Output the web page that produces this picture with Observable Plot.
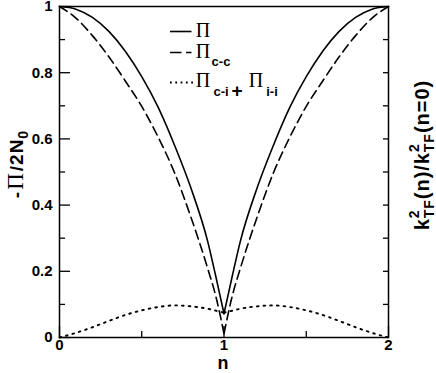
<!DOCTYPE html>
<html><head><meta charset="utf-8">
<script src="https://cdn.jsdelivr.net/npm/d3@7"></script>
<script src="https://cdn.jsdelivr.net/npm/@observablehq/plot@0.6"></script>
<style>body{margin:0;background:#fff} #chart svg{display:block}</style>
</head><body><div id="chart"></div>
<script>
// n values for the two branches (left of n=1 and right of n=1)
const nLeft  = [0, 0.1, 0.2, 0.3, 0.4, 0.5, 0.6, 0.7, 0.8, 0.9, 0.95, 1];
const nRight = [1, 1.05, 1.1, 1.2, 1.3, 1.4, 1.5, 1.6, 1.7, 1.8, 1.9, 2];

// Π (solid)
const piTotalLeft  = [1.000, 0.992, 0.967, 0.925, 0.865, 0.788, 0.695, 0.580, 0.450, 0.292, 0.185, 0.072];
const piTotalRight = [0.072, 0.185, 0.292, 0.450, 0.580, 0.695, 0.788, 0.865, 0.925, 0.967, 0.992, 1.000];
// Π c-c (dashed)
const piCCLeft  = [1.000, 0.965, 0.912, 0.848, 0.775, 0.698, 0.605, 0.497, 0.362, 0.210, 0.125, 0.012];
const piCCRight = [0.012, 0.125, 0.210, 0.362, 0.497, 0.605, 0.698, 0.775, 0.848, 0.912, 0.965, 1.000];
// Π c-i + Π i-i (dotted)
const piCILeft  = [0.000, 0.014, 0.031, 0.050, 0.068, 0.082, 0.092, 0.097, 0.094, 0.087, 0.081, 0.075];
const piCIRight = [0.075, 0.081, 0.087, 0.094, 0.097, 0.092, 0.082, 0.068, 0.050, 0.031, 0.014, 0.000];

const xTicks = [0, 1, 2];
const xMinorTicks = [0.5, 1.5];
const yTicks = [0, 0.2, 0.4, 0.6, 0.8, 1];
const yMinorTicks = [0.1, 0.3, 0.5, 0.7, 0.9];
const yRightTicks = [0.1, 0.2, 0.3, 0.4, 0.5, 0.6, 0.7, 0.8, 0.9];

function rowsFor(left, right) {
  const r = [];
  nLeft.forEach((n, i) => r.push({branch: "L", n, v: left[i]}));
  nRight.forEach((n, i) => r.push({branch: "R", n, v: right[i]}));
  return r;
}
const totalRows = rowsFor(piTotalLeft, piTotalRight);
const ccRows = rowsFor(piCCLeft, piCCRight);
const ciRows = rowsFor(piCILeft, piCIRight);

const W = 436, H = 373, ML = 59, MR = 48, MT = 6, MB = 36;
const FW = W - ML - MR, FH = H - MT - MB;

const sans = "'Liberation Sans', Arial, Helvetica, sans-serif";
const serif = "'Liberation Serif', 'Times New Roman', serif";
const fmt = d => String(+(+d).toFixed(1));

const plot = Plot.plot({
  width: W, height: H,
  marginLeft: ML, marginRight: MR, marginTop: MT, marginBottom: MB,
  style: {fontFamily: sans, fontWeight: "bold", background: "white", color: "black"},
  x: {domain: [0, 2], label: null},
  y: {domain: [0, 1], label: null},
  marks: [
    Plot.line(totalRows, {x: "n", y: "v", z: "branch", curve: "monotone-x", stroke: "black", strokeWidth: 1.6}),
    Plot.line(ccRows, {x: "n", y: "v", z: "branch", curve: "monotone-x", stroke: "black", strokeWidth: 1.6, strokeDasharray: "9,5"}),
    Plot.line(ciRows, {x: "n", y: "v", z: "branch", curve: "monotone-x", stroke: "black", strokeWidth: 1.9, strokeDasharray: "1.7,5"}),
    // inward tick marks
    Plot.tickY(yTicks, {y: d => d, insetRight: FW - 11, stroke: "black", strokeWidth: 1.3}),
    Plot.tickY(yMinorTicks, {y: d => d, insetRight: FW - 6, stroke: "black", strokeWidth: 1.3}),
    Plot.tickY(yRightTicks, {y: d => d, insetLeft: FW - 5, stroke: "black", strokeWidth: 1.3}),
    Plot.tickX(xTicks, {x: d => d, insetTop: FH - 11, stroke: "black", strokeWidth: 1.3}),
    Plot.tickX(xMinorTicks, {x: d => d, insetTop: FH - 6, stroke: "black", strokeWidth: 1.3}),
    // tick labels
    Plot.axisY({anchor: "left", ticks: yTicks, tickSize: 0, tickPadding: 7, tickFormat: fmt, fontSize: 15, label: null}),
    Plot.axisX({anchor: "bottom", ticks: xTicks, tickSize: 0, tickPadding: 2, tickFormat: fmt, fontSize: 15, label: null}),
    Plot.frame({stroke: "black", strokeWidth: 1.5})
  ]
});
document.getElementById("chart").appendChild(plot);

const svg = d3.select(plot);
const g = svg.append("g").attr("fill", "black").attr("font-family", sans).attr("font-weight", "bold");

// Legend
g.append("line").attr("x1", 170).attr("x2", 191.5).attr("y1", 31.5).attr("y2", 31.5)
  .attr("stroke", "black").attr("stroke-width", 1.6);
g.append("text").attr("x", 203).attr("y", 37).attr("font-family", serif).attr("font-weight", "normal")
  .attr("font-size", 20).text("Π");

g.append("line").attr("x1", 170).attr("x2", 191.5).attr("y1", 52.5).attr("y2", 52.5)
  .attr("stroke", "black").attr("stroke-width", 1.6).attr("stroke-dasharray", "11.5,4.5");
const t2 = g.append("text").attr("y", 57.5);
t2.append("tspan").attr("x", 203).attr("font-family", serif).attr("font-weight", "normal").attr("font-size", 20).text("Π");
t2.append("tspan").attr("x", 221).attr("y", 66).attr("font-size", 13).text("c-c");

g.append("line").attr("x1", 170).attr("x2", 193).attr("y1", 82.5).attr("y2", 82.5)
  .attr("stroke", "black").attr("stroke-width", 1.8).attr("stroke-dasharray", "1.8,3.5");
const t3 = g.append("text");
t3.append("tspan").attr("x", 203).attr("y", 87).attr("font-family", serif).attr("font-weight", "normal").attr("font-size", 20).text("Π");
t3.append("tspan").attr("x", 221).attr("y", 96).attr("font-size", 13).text("c-i");
t3.append("tspan").attr("x", 237).attr("y", 97).attr("font-size", 19).text("+");
t3.append("tspan").attr("x", 256).attr("y", 87).attr("font-family", serif).attr("font-weight", "normal").attr("font-size", 20).text("Π");
t3.append("tspan").attr("x", 272).attr("y", 96).attr("font-size", 13).text("i-i");

// Left axis label: -Π/2N0
const yl = g.append("text").attr("transform", "translate(23,164) rotate(-90)").attr("text-anchor", "middle")
  .attr("font-size", 19).attr("letter-spacing", 1);
yl.append("tspan").text("-");
yl.append("tspan").attr("font-family", serif).attr("font-weight", "normal").attr("font-size", 23).attr("dx", 1).text("Π");
yl.append("tspan").attr("dx", 1).text("/2N");
yl.append("tspan").attr("font-size", 14).attr("dy", 5).text("0");

// Right axis label: k²TF(n)/k²TF(n=0)
const rl = g.append("text").attr("transform", "translate(429,155) rotate(-90)").attr("text-anchor", "middle")
  .attr("font-size", 20).attr("letter-spacing", 1);
rl.append("tspan").text("k");
rl.append("tspan").attr("font-size", 14).attr("dy", -10).text("2");
rl.append("tspan").attr("font-size", 14).attr("dx", -9).attr("dy", 15).text("TF");
rl.append("tspan").attr("dy", -5).text("(n)/k");
rl.append("tspan").attr("font-size", 14).attr("dy", -10).text("2");
rl.append("tspan").attr("font-size", 14).attr("dx", -9).attr("dy", 15).text("TF");
rl.append("tspan").attr("dy", -5).text("(n=0)");

// x label
g.append("text").attr("x", 223).attr("y", 369).attr("text-anchor", "middle").attr("font-size", 18).text("n");
</script>
</body></html>
